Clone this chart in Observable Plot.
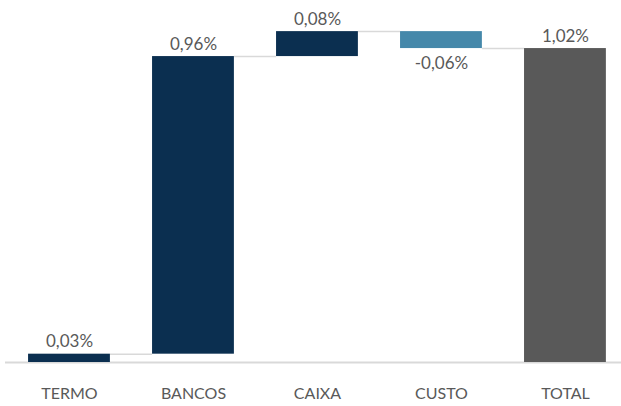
<!DOCTYPE html>
<html>
<head>
<meta charset="utf-8">
<script src="https://cdn.jsdelivr.net/npm/d3@7"></script>
<script src="https://cdn.jsdelivr.net/npm/@observablehq/plot@0.6"></script>
<style>
  html, body { margin: 0; padding: 0; background: #fff; }
  #chart { width: 621px; height: 406px; }
</style>
</head>
<body>
<div id="chart"></div>
<script>
const categories = ["TERMO", "BANCOS", "CAIXA", "CUSTO", "TOTAL"];
const deltas = [0.027, 0.966, 0.081, -0.055];   // contribuições (%)
const totalValue = 1.019;                         // total (%)
const valueLabels = ["0,03%", "0,96%", "0,08%", "-0,06%", "1,02%"];
const barColors = ["#0b2f50", "#0b2f50", "#0b2f50", "#4588aa", "#595959"];

// build waterfall table
let run = 0;
const rows = deltas.map((d, i) => {
  const start = run; run += d;
  return {i, cat: categories[i], y1: start, y2: run, value: d, label: valueLabels[i], color: barColors[i]};
});
rows.push({i: 4, cat: categories[4], y1: 0, y2: totalValue, value: totalValue, label: valueLabels[4], color: barColors[4]});

const half = 0.33;
const connectors = rows.slice(0, -1).map(r => ({x1: r.i + half, x2: r.i + 1 - half, y: r.y2}));

const font = "Lato, 'Open Sans', sans-serif";

const chart = Plot.plot({
  width: 621,
  height: 406,
  marginLeft: 5,
  marginRight: 0,
  marginTop: 0,
  marginBottom: 44,
  style: {fontFamily: font, fontSize: "16px", color: "#595959", background: "#fff"},
  x: {domain: [-0.516, 4.452], axis: null},
  y: {domain: [0, 1.175], axis: null},
  marks: [
    Plot.ruleY([0], {stroke: "#d9d9d9", strokeWidth: 2}),
    Plot.ruleY(connectors, {x1: "x1", x2: "x2", y: "y", stroke: "#d9d9d9", strokeWidth: 1.5}),
    Plot.rectY(rows, {x1: d => d.i - half, x2: d => d.i + half, y1: "y1", y2: "y2", fill: "color"}),
    Plot.text(rows.filter(d => d.value >= 0), {
      x: "i", y: d => Math.max(d.y1, d.y2), text: "label",
      lineAnchor: "bottom", dy: -7, fill: "#595959", fontSize: 17
    }),
    Plot.text(rows.filter(d => d.value < 0), {
      x: "i", y: d => Math.min(d.y1, d.y2), text: "label",
      lineAnchor: "top", dy: 8, fill: "#595959", fontSize: 17
    }),
    Plot.axisX(d3.range(categories.length), {
      tickSize: 0, tickPadding: 25, tickFormat: i => categories[i],
      fontSize: 16, fill: "#595959"
    })
  ]
});
document.getElementById("chart").appendChild(chart);
</script>
</body>
</html>
